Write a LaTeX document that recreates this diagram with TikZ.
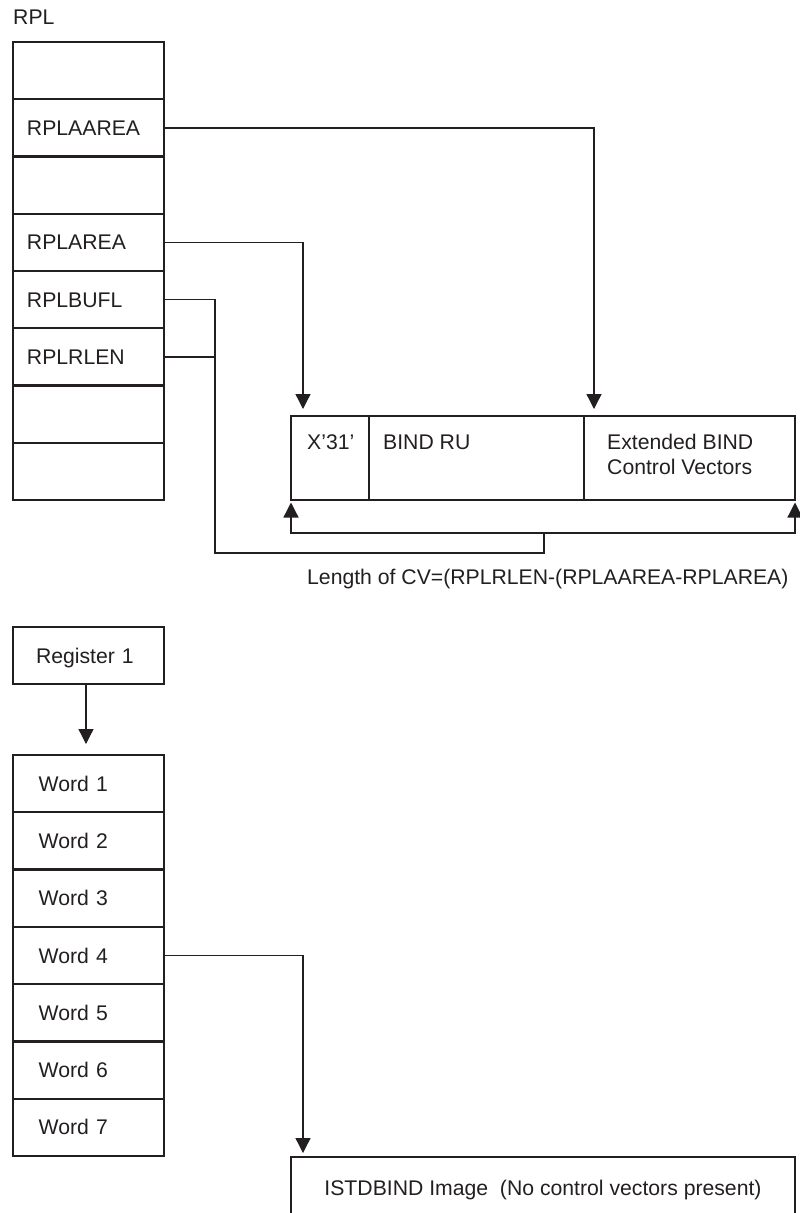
\documentclass[tikz,border=0pt]{standalone}
\usepackage{fontspec}
\setmainfont{Liberation Sans}
\usetikzlibrary{arrows.meta}
\definecolor{ink}{HTML}{231F20}

\begin{document}
\begin{tikzpicture}[x=1pt, y=-1pt,
  font=\fontsize{21.2}{25}\selectfont, text=ink,
  box/.style={draw=ink, line width=2.3pt, inner sep=0pt, outer sep=0pt},
  rplcell/.style={box, minimum height=57.25pt, inner xsep=14pt, inner ysep=0pt,
    text width=123pt, align=left, text height=15pt, text depth=0pt},
  wordcell/.style={box, minimum height=57.3pt, inner xsep=25.7pt, inner ysep=0pt,
    text width=99.6pt, align=left, text height=15pt, text depth=0pt},
  txt/.style={inner sep=0pt, text height=15pt, text depth=0pt},
  conn/.style={draw=ink, line width=1.3pt},
  tip/.style={-{Triangle[width=15pt,length=15pt]}}
]
\useasboundingbox (0,0) rectangle (800,1213);

% RPL parameter list
\node[txt, anchor=west] (rpllabel) at (13,17) {RPL};
\node[rplcell] (rpl1)  at (88.5, 70.6)  {};
\node[rplcell] (aarea) at (88.5,127.9)  {RPLAAREA};
\node[rplcell] (rpl3)  at (88.5,185.1)  {};
\node[rplcell] (area)  at (88.5,242.4)  {RPLAREA};
\node[rplcell] (bufl)  at (88.5,299.6)  {RPLBUFL};
\node[rplcell] (rlen)  at (88.5,356.9)  {RPLRLEN};
\node[rplcell] (rpl7)  at (88.5,414.1)  {};
\node[rplcell] (rpl8)  at (88.5,471.4)  {};

% BIND area
\node[box, minimum width=78pt,  minimum height=84pt] (bx)   at (330,458)   {};
\node[box, minimum width=215pt, minimum height=84pt] (bru)  at (476.5,458) {};
\node[box, minimum width=211pt, minimum height=84pt] (bext) at (689.5,458) {};
\node[txt, anchor=west] (bxt)  at (307,442) {X’31’};
\node[txt, anchor=west] (brut) at (383,442) {BIND RU};
\node[inner sep=0pt, anchor=north west, align=left] (bextt) at (607,434)
  {Extended BIND\\Control Vectors};

% pointers into the BIND area
\draw[conn, tip, shorten >=7pt] (aarea.east) -| ([xshift=10pt]bext.north west);
\draw[conn, tip, shorten >=7pt] (area.east) -| ([xshift=12pt]bx.north west);

% length bracket
\coordinate (j) at (215,553);
\coordinate (m) at (544,553);
\coordinate (k) at (544,533);
\coordinate (bl) at (bx.south west |- k);
\coordinate (br) at (bext.south east |- k);
\draw[conn] (bufl.east) -| (j) -- (m) -- (k);
\draw[conn] (rlen.east) -- (rlen.east -| j);
\draw[conn, tip, shorten >=2.5pt] (k) -- (bl) -- (bx.south west);
\draw[conn, tip, shorten >=2.5pt] (k) -- (br) -- (bext.south east);
\node[txt, anchor=west] (lenlabel) at (307,577) {Length of CV=(RPLRLEN-(RPLAAREA-RPLAREA)};

% Register 1 and the word list
\node[box, minimum height=56.5pt, inner xsep=23pt, text width=105pt, align=left,
  text height=15pt, text depth=0pt] (reg) at (88.5,655.5) {Register 1};
\node[wordcell] (w1) at (88.5, 783.65) {Word 1};
\node[wordcell] (w2) at (88.5, 840.95) {Word 2};
\node[wordcell] (w3) at (88.5, 898.25) {Word 3};
\node[wordcell] (w4) at (88.5, 955.55) {Word 4};
\node[wordcell] (w5) at (88.5,1012.85) {Word 5};
\node[wordcell] (w6) at (88.5,1070.15) {Word 6};
\node[wordcell] (w7) at (88.5,1127.45) {Word 7};
\draw[conn, tip, shorten >=11pt] ([xshift=-2.5pt]reg.south) -- ([xshift=-2.5pt]w1.north);

% ISTDBIND image
\node[box, minimum width=504pt, minimum height=90pt] (img) at (543,1202) {};
\node[txt] (imgt) at (543,1188) {ISTDBIND Image~~(No control vectors present)};
\draw[conn, tip, shorten >=4pt] (w4.east) -| ([xshift=12pt]img.north west);
\end{tikzpicture}
\end{document}
